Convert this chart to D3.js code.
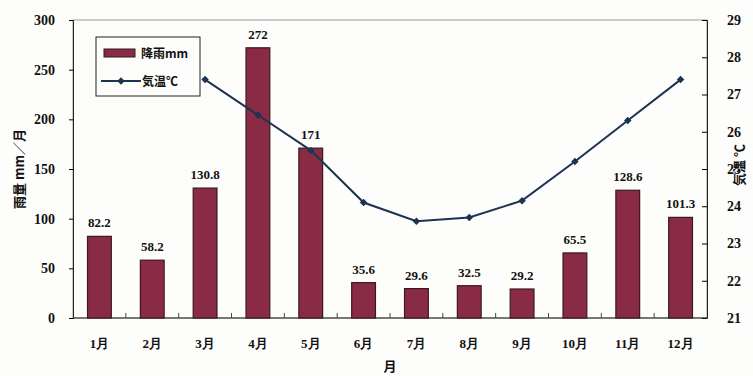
<!DOCTYPE html>
<html>
<head>
<meta charset="utf-8">
<script src="https://cdn.jsdelivr.net/npm/d3@7"></script>
<style>
  body { margin: 0; background: #fdfdfb; }
  svg { display: block; }
  .num { font-family: "Liberation Serif", "DejaVu Serif", serif; font-weight: bold; }
  .cjk { font-family: "Noto Sans CJK JP", sans-serif; font-weight: bold; }
</style>
</head>
<body>
<div id="chart"></div>
<script>
const months = ["1月", "2月", "3月", "4月", "5月", "6月", "7月", "8月", "9月", "10月", "11月", "12月"];
const rain = [82.2, 58.2, 130.8, 272, 171, 35.6, 29.6, 32.5, 29.2, 65.5, 128.6, 101.3];
// Jan and Feb temperatures sit behind the legend box
const temp = [null, null, 27.4, 26.45, 25.5, 24.1, 23.6, 23.7, 24.15, 25.2, 26.3, 27.4];
const rainTicks = [0, 50, 100, 150, 200, 250, 300];
const tempTicks = [21, 22, 23, 24, 25, 26, 27, 28, 29];

const width = 753;
const height = 376;
const margin = { top: 20, right: 46, bottom: 58, left: 73 };

const svg = d3.select("#chart").append("svg")
    .attr("width", width)
    .attr("height", height);

const x = d3.scaleBand()
    .domain(months)
    .range([margin.left, width - margin.right])
    .paddingInner(0.55)
    .paddingOuter(0.275);

const yRain = d3.scaleLinear().domain([0, 300]).range([height - margin.bottom, margin.top]);
const yTemp = d3.scaleLinear().domain([21, 29]).range([height - margin.bottom, margin.top]);

// frame
svg.append("rect")
    .attr("x", margin.left)
    .attr("y", margin.top)
    .attr("width", width - margin.left - margin.right)
    .attr("height", height - margin.top - margin.bottom)
    .attr("fill", "none")
    .attr("stroke", "#999")
    .attr("stroke-width", 1);

// left axis
const leftAxis = svg.append("g")
    .attr("transform", `translate(${margin.left},0)`)
    .call(d3.axisLeft(yRain).tickValues(rainTicks).tickSize(4).tickPadding(14));
leftAxis.select(".domain").attr("stroke", "#222");
leftAxis.selectAll("text").attr("class", "num").style("font-size", "14px").attr("fill", "#111");

// right axis (ticks inward)
const rightAxis = svg.append("g")
    .attr("transform", `translate(${width - margin.right},0)`)
    .call(d3.axisRight(yTemp).tickValues(tempTicks).tickSize(-5).tickPadding(20));
rightAxis.select(".domain").attr("stroke", "#222");
rightAxis.selectAll("text").attr("class", "num").style("font-size", "14px").attr("fill", "#111");

// bottom axis: tick marks between categories pointing up
const bottom = svg.append("g").attr("transform", `translate(0,${height - margin.bottom})`);
bottom.append("line")
    .attr("x1", margin.left).attr("x2", width - margin.right)
    .attr("stroke", "#222");
const step = x.step();
bottom.selectAll(".tk")
    .data(months.slice(1))
    .join("line")
    .attr("x1", d => x(d) - (step - x.bandwidth()) / 2)
    .attr("x2", d => x(d) - (step - x.bandwidth()) / 2)
    .attr("y1", 0).attr("y2", -5)
    .attr("stroke", "#444");
bottom.selectAll(".lbl")
    .data(months)
    .join("text")
    .attr("class", "num")
    .attr("x", d => x(d) + x.bandwidth() / 2)
    .attr("y", 30)
    .attr("text-anchor", "middle")
    .style("font-size", "13px")
    .attr("fill", "#111")
    .text(d => d);

// bars
svg.append("g").selectAll("rect")
    .data(rain)
    .join("rect")
    .attr("x", (d, i) => x(months[i]))
    .attr("y", d => yRain(d))
    .attr("width", x.bandwidth())
    .attr("height", d => yRain(0) - yRain(d))
    .attr("fill", "#8a2b45")
    .attr("stroke", "#3b1820")
    .attr("stroke-width", 1.2);

svg.append("g").selectAll("text")
    .data(rain)
    .join("text")
    .attr("class", "num")
    .attr("x", (d, i) => x(months[i]) + x.bandwidth() / 2)
    .attr("y", d => yRain(d) - 9)
    .attr("text-anchor", "middle")
    .style("font-size", "13px")
    .attr("fill", "#111")
    .text(d => d);

// temperature line
const pts = temp.map((t, i) => ({ m: months[i], t })).filter(d => d.t !== null);
const line = d3.line()
    .x(d => x(d.m) + x.bandwidth() / 2)
    .y(d => yTemp(d.t));
svg.append("path")
    .datum(pts)
    .attr("d", line)
    .attr("fill", "none")
    .attr("stroke", "#1c3452")
    .attr("stroke-width", 2);
const marker = d3.symbol(d3.symbolSquare, 28);
svg.append("g").selectAll("path")
    .data(pts)
    .join("path")
    .attr("d", marker)
    .attr("transform", d => `translate(${x(d.m) + x.bandwidth() / 2},${yTemp(d.t)}) rotate(45)`)
    .attr("fill", "#1c3452");

// axis titles
svg.append("text")
    .attr("class", "cjk")
    .attr("transform", `translate(24,${(margin.top + height - margin.bottom) / 2}) rotate(-90)`)
    .attr("text-anchor", "middle")
    .style("font-size", "13px")
    .attr("fill", "#111")
    .text("雨量 mm／月");
svg.append("text")
    .attr("class", "cjk")
    .attr("transform", `translate(744,165) rotate(-90)`)
    .attr("text-anchor", "middle")
    .style("font-size", "13px")
    .attr("fill", "#111")
    .text("気温 ℃");
svg.append("text")
    .attr("class", "cjk")
    .attr("x", 390).attr("y", 371)
    .attr("text-anchor", "middle")
    .style("font-size", "13px")
    .attr("fill", "#111")
    .text("月");

// legend
const lg = svg.append("g").attr("transform", "translate(96,37)");
lg.append("rect")
    .attr("width", 104).attr("height", 59)
    .attr("fill", "#fdfdfb")
    .attr("stroke", "#222");
lg.append("rect")
    .attr("x", 8).attr("y", 12).attr("width", 31).attr("height", 8)
    .attr("fill", "#8a2b45").attr("stroke", "#3b1820");
lg.append("text").attr("class", "cjk")
    .attr("x", 45).attr("y", 21)
    .style("font-size", "12px").attr("fill", "#111")
    .text("降雨mm");
lg.append("line")
    .attr("x1", 5).attr("x2", 45).attr("y1", 44).attr("y2", 44)
    .attr("stroke", "#1c3452").attr("stroke-width", 2);
lg.append("path")
    .attr("d", marker)
    .attr("transform", "translate(25,44) rotate(45)")
    .attr("fill", "#1c3452");
lg.append("text").attr("class", "cjk")
    .attr("x", 46).attr("y", 49)
    .style("font-size", "12px").attr("fill", "#111")
    .text("気温℃");
</script>
</body>
</html>
